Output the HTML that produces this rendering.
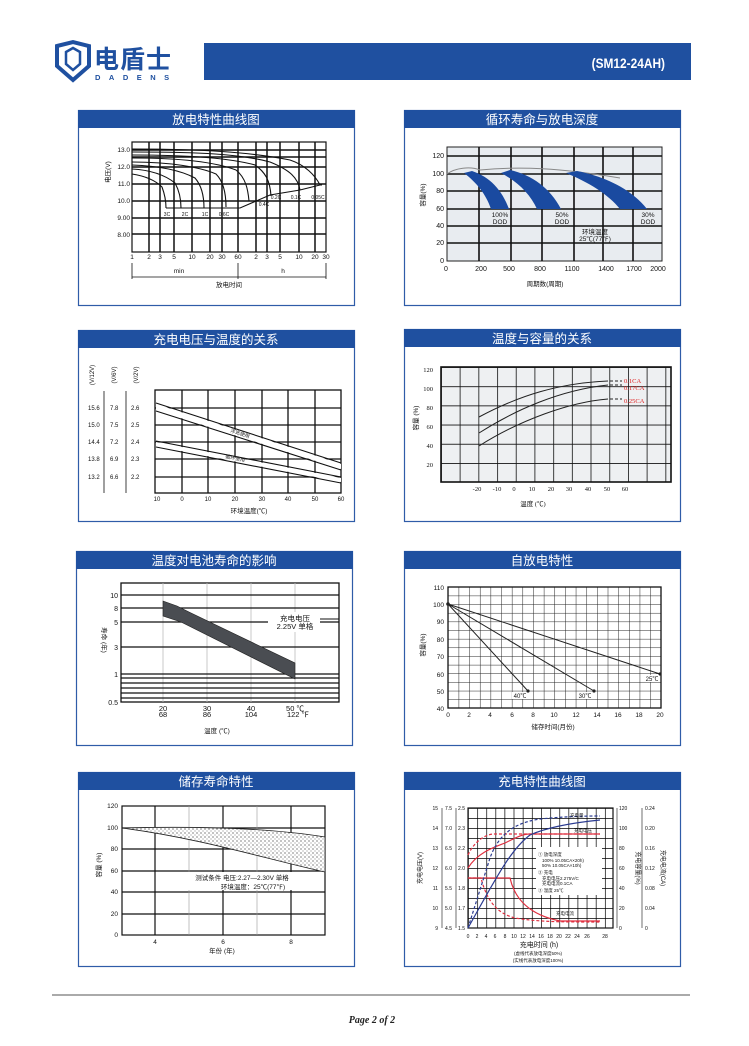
<!DOCTYPE html>
<html><head><meta charset="utf-8"><style>
html,body{margin:0;padding:0;background:#fff;}
svg{display:block;font-family:"Liberation Sans","Noto Sans CJK SC",sans-serif;}
</style></head><body>
<svg width="749" height="1046" viewBox="0 0 749 1046" xmlns="http://www.w3.org/2000/svg">
<defs>
<pattern id="g4" x="441" y="367" width="18.7" height="19.2" patternUnits="userSpaceOnUse"><path d="M0 0V19.2M0 0H18.7" stroke="#111" stroke-width="1.6" fill="none"/></pattern>
<pattern id="g6" x="448" y="587" width="10.65" height="8.65" patternUnits="userSpaceOnUse"><path d="M0 0V8.65M0 0H10.65" stroke="#222" stroke-width="1" fill="none"/></pattern>
<pattern id="g8" x="468" y="808" width="9.13" height="10" patternUnits="userSpaceOnUse"><path d="M0 0V10M0 0H9.13" stroke="#000" stroke-width="1.4" fill="none"/></pattern>
<pattern id="dots" width="4" height="4" patternUnits="userSpaceOnUse"><rect width="4" height="4" fill="#fff"/><circle cx="1" cy="1" r="0.6" fill="#333"/><circle cx="3" cy="3" r="0.5" fill="#555"/></pattern>
</defs>

<!-- Header -->
<g fill="#1f50a0">
<path d="M57 46 L73 42 L89 46 L89 66 L73 80 L57 66 Z" fill="none" stroke="#1f50a0" stroke-width="4"/>
<path d="M66 52 L73 48 L80 52 L80 64 L73 70 L66 64 Z" fill="none" stroke="#1f50a0" stroke-width="2.5"/>
</g>
<text x="94" y="68" font-size="25" font-weight="bold" fill="#1f50a0" letter-spacing="1">电盾士</text>
<text x="95" y="80" font-size="7.5" font-weight="bold" fill="#1f50a0" letter-spacing="8.5">DADENS</text>
<rect x="204" y="43" width="487" height="37" fill="#1f50a0"/>
<text x="665" y="68" font-size="14" font-weight="bold" fill="#fff" text-anchor="end" transform="translate(665 0) scale(0.85 1) translate(-665 0)">(SM12-24AH)</text>

<!-- Panels -->
<g fill="none" stroke="#2f5ca8" stroke-width="1.2">
<rect x="78.5" y="110.5" width="276" height="195"/>
<rect x="404.5" y="110.5" width="276" height="195"/>
<rect x="78.5" y="330.5" width="276" height="191"/>
<rect x="404.5" y="329.5" width="276" height="192"/>
<rect x="76.5" y="551.5" width="276" height="194"/>
<rect x="404.5" y="551.5" width="276" height="194"/>
<rect x="78.5" y="772.5" width="276" height="194"/>
<rect x="404.5" y="772.5" width="276" height="194"/>
</g>
<g fill="#1f50a0">
<rect x="78" y="110" width="277" height="18"/>
<rect x="404" y="110" width="277" height="18"/>
<rect x="78" y="330" width="277" height="18"/>
<rect x="404" y="329" width="277" height="18"/>
<rect x="76" y="551" width="277" height="18"/>
<rect x="404" y="551" width="277" height="18"/>
<rect x="78" y="772" width="277" height="18"/>
<rect x="404" y="772" width="277" height="18"/>
</g>
<g fill="#fff" font-size="12.5" text-anchor="middle">
<text x="216" y="124">放电特性曲线图</text>
<text x="542" y="124">循环寿命与放电深度</text>
<text x="216" y="344">充电电压与温度的关系</text>
<text x="542" y="343">温度与容量的关系</text>
<text x="214" y="565">温度对电池寿命的影响</text>
<text x="542" y="565">自放电特性</text>
<text x="216" y="786">储存寿命特性</text>
<text x="542" y="786">充电特性曲线图</text>
</g>

<!-- Chart 1 -->
<g stroke="#111" fill="none">
<rect x="132" y="142" width="194" height="110" stroke-width="1.2"/>
<g stroke-width="1.5">
<path d="M149 142V252M160 142V252M174 142V252M192 142V252M210 142V252M222 142V252M238 142V252M256 142V252M267 142V252M280 142V252M299 142V252M315 142V252"/>
<path d="M132 150H326M132 157H326M132 167H326M132 184H326M132 201H326M132 218H326M132 234H326"/>
</g>
<g stroke-width="1.1">
<path d="M132 149 C200 149 250 152 290 160 C305 165 315 175 320 185 L322 185"/>
<path d="M132 152 C200 152 240 154 270 162 C290 170 298 178 300 190"/>
<path d="M132 155 C190 155 230 158 255 165 C265 172 270 180 271 196"/>
<path d="M132 158 C180 158 215 162 236 170 C246 178 248 190 249 201"/>
<path d="M132 162 C170 162 200 167 216 174 C224 182 226 195 226 207"/>
<path d="M132 165 C160 166 180 170 195 178 C202 186 204 198 204 208"/>
<path d="M132 169 C150 170 165 175 175 183 C180 192 181 200 181 208"/>
<path d="M132 174 C145 176 155 180 162 187 C165 195 166 202 166 208"/>
<path d="M166 208 H240 L270 195 L300 190 L320 185"/>
</g>
</g>
<g font-size="5" fill="#111" text-anchor="middle">
<text x="167" y="216">3C</text><text x="185" y="216">2C</text><text x="205" y="216">1C</text><text x="224" y="216">0.6C</text>
<text x="264" y="206">0.4C</text><text x="276" y="199">0.2C</text><text x="296" y="199">0.1C</text><text x="318" y="199">0.05C</text>
</g>
<g font-size="6.5" fill="#111" text-anchor="end">
<text x="130" y="152">13.0</text><text x="130" y="169">12.0</text><text x="130" y="186">11.0</text><text x="130" y="203">10.0</text><text x="130" y="220">9.00</text><text x="130" y="237">8.00</text>
</g>
<text x="110" y="172" font-size="6.5" fill="#111" transform="rotate(-90 110 172)" text-anchor="middle">电压(V)</text>
<g font-size="6.5" fill="#111" text-anchor="middle">
<text x="132" y="259">1</text><text x="149" y="259">2</text><text x="160" y="259">3</text><text x="174" y="259">5</text><text x="192" y="259">10</text><text x="210" y="259">20</text><text x="222" y="259">30</text><text x="238" y="259">60</text><text x="256" y="259">2</text><text x="267" y="259">3</text><text x="280" y="259">5</text><text x="299" y="259">10</text><text x="315" y="259">20</text><text x="326" y="259">30</text>
<text x="179" y="273">min</text><text x="283" y="273">h</text><text x="229" y="287">放电时间</text>
</g>
<path d="M132 263V279M238 263V279M326 263V279M132 277H326" stroke="#111" stroke-width="0.8"/>

<!-- Chart 2 -->
<rect x="447" y="147" width="215" height="114" fill="#e8ecf0" stroke="#222"/>
<g stroke="#111" stroke-width="1.6">
<path d="M479 147V261M511 147V261M542 147V261M574 147V261M603 147V261M633 147V261"/>
<path d="M447 156H662M447 174H662M447 191H662M447 209H662M447 226H662M447 243H662"/>
</g>
<path d="M447 174 C455 168 470 166 480 170 C520 166 560 168 620 178" stroke="#888" fill="none" stroke-width="1"/>
<g fill="#1a4aa0">
<path d="M464 173 C476 182 486 194 491 209 L509 209 C502 190 490 177 472 171 Z"/>
<path d="M501 173 C518 182 530 194 537 209 L561 209 C550 188 532 175 510 170 Z"/>
<path d="M566 173 C588 182 608 194 620 209 L647 209 C632 190 607 177 577 171 Z"/>
</g>
<g font-size="6.5" fill="#111" text-anchor="middle">
<text x="500" y="217">100%</text><text x="500" y="224">DOD</text>
<text x="562" y="217">50%</text><text x="562" y="224">DOD</text>
<text x="648" y="217">30%</text><text x="648" y="224">DOD</text>
<text x="595" y="234">环境温度</text><text x="595" y="241">25℃(77℉)</text>
<text x="545" y="286" font-size="6.5">周期数(周期)</text>
</g>
<g font-size="7" fill="#111" text-anchor="end">
<text x="444" y="158">120</text><text x="444" y="176">100</text><text x="444" y="193">80</text><text x="444" y="211">60</text><text x="444" y="228">40</text><text x="444" y="245">20</text><text x="444" y="263">0</text>
</g>
<g font-size="7" fill="#111" text-anchor="middle">
<text x="446" y="271">0</text><text x="481" y="271">200</text><text x="509" y="271">500</text><text x="540" y="271">800</text><text x="572" y="271">1100</text><text x="606" y="271">1400</text><text x="634" y="271">1700</text><text x="658" y="271">2000</text>
</g>
<text x="425" y="195" font-size="6.5" fill="#111" transform="rotate(-90 425 195)" text-anchor="middle">容量(%)</text>

<!-- Chart 3 -->
<rect x="155" y="390" width="186" height="103" fill="none" stroke="#111" stroke-width="1.3"/>
<g stroke="#111" stroke-width="1.3">
<path d="M182 390V493M208 390V493M235 390V493M262 390V493M288 390V493M315 390V493"/>
<path d="M155 408H341M155 425H341M155 442H341M155 459H341M155 477H341"/>
</g>
<g stroke="#111" stroke-width="1.1">
<path d="M156 403L341 463M156 411L341 470M156 441L341 477M156 447L341 483"/>
</g>
<polygon points="156,404 341,464 341,469 156,410" fill="#fff"/>
<polygon points="156,442 341,478 341,482 156,446" fill="#fff"/>
<text x="230" y="432" font-size="5" fill="#222" transform="rotate(18 230 432)">浮充使用</text>
<text x="225" y="458" font-size="5" fill="#222" transform="rotate(11 225 458)">循环使用</text>
<g font-size="6" fill="#111">
<text x="88" y="410">15.6</text><text x="110" y="410">7.8</text><text x="131" y="410">2.6</text>
<text x="88" y="427">15.0</text><text x="110" y="427">7.5</text><text x="131" y="427">2.5</text>
<text x="88" y="444">14.4</text><text x="110" y="444">7.2</text><text x="131" y="444">2.4</text>
<text x="88" y="461">13.8</text><text x="110" y="461">6.9</text><text x="131" y="461">2.3</text>
<text x="88" y="479">13.2</text><text x="110" y="479">6.6</text><text x="131" y="479">2.2</text>
</g>
<path d="M104 391V493M126 391V493" stroke="#111" stroke-width="0.8"/>
<g font-size="6" fill="#111" text-anchor="middle">
<text x="94" y="375" transform="rotate(-90 94 375)">(V/12V)</text>
<text x="116" y="375" transform="rotate(-90 116 375)">(V/6V)</text>
<text x="138" y="375" transform="rotate(-90 138 375)">(V/2V)</text>
<text x="157" y="501">10</text><text x="182" y="501">0</text><text x="208" y="501">10</text><text x="235" y="501">20</text><text x="262" y="501">30</text><text x="288" y="501">40</text><text x="315" y="501">50</text><text x="341" y="501">60</text>
<text x="249" y="513" font-size="6.5">环境温度(℃)</text>
</g>

<!-- Chart 4 -->
<rect x="441" y="367" width="230" height="115" fill="#eef0f2"/>
<rect x="441" y="367" width="230" height="115" fill="url(#g4)" stroke="#111" stroke-width="1.6"/>
<g stroke="#222" fill="none" stroke-width="1">
<path d="M479 417 C520 395 560 383 608 381"/>
<path d="M479 433 C515 410 560 390 608 385"/>
<path d="M479 446 C520 420 570 402 608 399"/>
<path d="M610 381H622M610 385H622M610 399H622" stroke-dasharray="3 2"/>
</g>
<g font-size="6.5" fill="#e02020" font-family="Liberation Serif,serif">
<text x="624" y="383">0.1CA</text><text x="624" y="390">0.17CA</text><text x="624" y="403">0.25CA</text>
</g>
<g font-size="6.5" fill="#111" text-anchor="end" font-family="Liberation Serif,serif">
<text x="433" y="372">120</text><text x="433" y="391">100</text><text x="433" y="410">80</text><text x="433" y="429">60</text><text x="433" y="448">40</text><text x="433" y="467">20</text>
</g>
<g font-size="6.5" fill="#111" text-anchor="middle" font-family="Liberation Serif,serif">
<text x="477" y="491">-20</text><text x="497" y="491">-10</text><text x="514" y="491">0</text><text x="532" y="491">10</text><text x="551" y="491">20</text><text x="569" y="491">30</text><text x="588" y="491">40</text><text x="607" y="491">50</text><text x="625" y="491">60</text>
<text x="533" y="506">温度 (℃)</text>
</g>
<text x="418" y="418" font-size="6.5" fill="#111" transform="rotate(-90 418 418)" text-anchor="middle">容量 (%)</text>

<!-- Chart 5 -->
<rect x="121" y="583" width="218" height="119" fill="none" stroke="#111" stroke-width="1.3"/>
<g stroke="#bbb" stroke-width="0.8"><path d="M163 583V702M207 583V702M251 583V702M295 583V702"/></g>
<g stroke="#111" stroke-width="1.2"><path d="M121 595H339M121 608H339M121 622H339M121 647H339M121 674H339M121 678H339M121 683H339M121 688H339M121 693H339M121 698H339"/></g>
<polygon points="163,601 177,606 189,612 295,663 295,679 181,622 163,616" fill="#4a4d52" stroke="#222" stroke-width="0.6"/>
<rect x="268" y="612" width="52" height="20" fill="#fff"/>
<path d="M320 619H339" stroke="#111"/>
<g font-size="7.5" fill="#111" text-anchor="middle">
<text x="295" y="621">充电电压</text><text x="295" y="629">2.25V 单格</text>
<text x="163" y="711">20</text><text x="163" y="717">68</text>
<text x="207" y="711">30</text><text x="207" y="717">86</text>
<text x="251" y="711">40</text><text x="251" y="717">104</text>
<text x="295" y="711">50 ℃</text><text x="298" y="717">122 ℉</text>
<text x="217" y="733" font-size="6.5">温度 (℃)</text>
</g>
<g font-size="7" fill="#111" text-anchor="end">
<text x="118" y="598">10</text><text x="118" y="611">8</text><text x="118" y="625">5</text><text x="118" y="650">3</text><text x="118" y="677">1</text><text x="118" y="705">0.5</text>
</g>
<text x="102" y="640" font-size="6.5" fill="#111" transform="rotate(90 102 640)" text-anchor="middle">寿命 (年)</text>

<!-- Chart 6 -->
<rect x="448" y="587" width="213" height="121" fill="url(#g6)" stroke="#111" stroke-width="1.3"/>
<g stroke="#222" stroke-width="1" fill="none">
<path d="M448 604L528 691M448 604L594 691M448 604L660 674"/>
</g>
<g fill="#222"><circle cx="448" cy="604" r="1.8"/><circle cx="528" cy="691" r="1.6"/><circle cx="594" cy="691" r="1.6"/><circle cx="660" cy="674" r="1.6"/></g>
<g font-size="6" fill="#111" text-anchor="middle">
<rect x="512" y="692" width="14" height="7" fill="#fff"/><text x="520" y="698">40℃</text>
<rect x="578" y="692" width="14" height="7" fill="#fff"/><text x="585" y="698">30℃</text>
<rect x="645" y="675" width="14" height="7" fill="#fff"/><text x="652" y="681">25℃</text>
</g>
<g font-size="6.5" fill="#111" text-anchor="end">
<text x="444" y="590">110</text><text x="444" y="607">100</text><text x="444" y="624">90</text><text x="444" y="642">80</text><text x="444" y="659">70</text><text x="444" y="677">60</text><text x="444" y="694">50</text><text x="444" y="711">40</text>
</g>
<g font-size="6.5" fill="#111" text-anchor="middle">
<text x="448" y="717">0</text><text x="469" y="717">2</text><text x="490" y="717">4</text><text x="512" y="717">6</text><text x="533" y="717">8</text><text x="554" y="717">10</text><text x="576" y="717">12</text><text x="597" y="717">14</text><text x="618" y="717">16</text><text x="639" y="717">18</text><text x="660" y="717">20</text>
<text x="553" y="729">储存时间(月份)</text>
</g>
<text x="425" y="645" font-size="6.5" fill="#111" transform="rotate(-90 425 645)" text-anchor="middle">容量(%)</text>

<!-- Chart 7 -->
<rect x="122" y="806" width="203" height="129" fill="none" stroke="#111" stroke-width="1.2"/>
<g stroke="#111" stroke-width="1.2">
<path d="M122 828H325M122 849H325M122 871H325M122 892H325M122 914H325"/>
<path d="M155 806V935M223 806V935M291 806V935"/>
</g>
<g stroke="#999" stroke-width="0.6"><path d="M189 806V935M257 806V935"/></g>
<path d="M122 828 C200 826 270 828 325 837 L325 872 C270 860 200 838 122 828 Z" fill="url(#dots)" stroke="#222" stroke-width="0.8"/>
<rect x="178" y="872" width="130" height="18" fill="#fff"/>
<g font-size="6.5" fill="#111" text-anchor="middle">
<text x="242" y="880">测试条件 电压:2.27—2.30V 单格</text>
<text x="253" y="889">环境温度：25℃(77℉)</text>
<text x="155" y="944">4</text><text x="223" y="944">6</text><text x="291" y="944">8</text>
<text x="222" y="953">年份 (年)</text>
</g>
<g font-size="6.5" fill="#111" text-anchor="end">
<text x="118" y="808">120</text><text x="118" y="830">100</text><text x="118" y="851">80</text><text x="118" y="873">60</text><text x="118" y="894">40</text><text x="118" y="916">20</text><text x="118" y="937">0</text>
</g>
<text x="101" y="865" font-size="6.5" fill="#111" transform="rotate(-90 101 865)" text-anchor="middle">容量 (%)</text>

<!-- Chart 8 -->
<rect x="468" y="808" width="145" height="120" fill="url(#g8)" stroke="#111" stroke-width="1.2"/>
<rect x="536" y="847" width="66" height="48" fill="#fff"/>
<g fill="none" stroke-width="1.2">
<path d="M468 868 C478 852 495 847 505 843 C515 838 522 834 530 834 H600" stroke="#e03040"/>
<path d="M468 855 C474 842 484 835 493 834 H600" stroke="#e03040" stroke-dasharray="3 2"/>
<path d="M468 878 H510 C515 900 530 915 560 921 H600" stroke="#e03040"/>
<path d="M468 878 H481 C488 905 500 914 515 918 C540 922 560 922 600 922" stroke="#e03040" stroke-dasharray="3 2"/>
<path d="M468 928 C495 880 510 850 530 835 C550 826 580 822 600 820" stroke="#2a3a90"/>
<path d="M468 928 L490 858 C500 830 520 822 540 819 C570 816 590 816 600 816" stroke="#2a3a90" stroke-dasharray="3 2"/>
</g>
<g font-size="4.5" fill="#111">
<text x="570" y="817">充电量</text><text x="574" y="832">充电电压</text><text x="556" y="915">充电电流</text>
<text x="538" y="856">① 放电深度</text><text x="542" y="862">100% 10.05CA×20h)</text><text x="542" y="867">50% 10.05CA×10h)</text>
<text x="538" y="874">② 充电</text><text x="542" y="880">充电电压2.275V/C</text><text x="542" y="885">充电电流0.1CA</text><text x="538" y="892">③ 温度 25℃</text>
</g>
<g font-size="5" fill="#111" text-anchor="end">
<text x="438" y="810">15</text><text x="438" y="830">14</text><text x="438" y="850">13</text><text x="438" y="870">12</text><text x="438" y="890">11</text><text x="438" y="910">10</text><text x="438" y="930">9</text>
<text x="452" y="810">7.5</text><text x="452" y="830">7.0</text><text x="452" y="850">6.5</text><text x="452" y="870">6.0</text><text x="452" y="890">5.5</text><text x="452" y="910">5.0</text><text x="452" y="930">4.5</text>
<text x="465" y="810">2.5</text><text x="465" y="830">2.3</text><text x="465" y="850">2.2</text><text x="465" y="870">2.0</text><text x="465" y="890">1.8</text><text x="465" y="910">1.7</text><text x="465" y="930">1.5</text>
</g>
<g font-size="5" fill="#111">
<text x="619" y="810">120</text><text x="619" y="830">100</text><text x="619" y="850">80</text><text x="619" y="870">60</text><text x="619" y="890">40</text><text x="619" y="910">20</text><text x="619" y="930">0</text>
<text x="645" y="810">0.24</text><text x="645" y="830">0.20</text><text x="645" y="850">0.16</text><text x="645" y="870">0.12</text><text x="645" y="890">0.08</text><text x="645" y="910">0.04</text><text x="645" y="930">0</text>
</g>
<path d="M442 808V928M456 808V928M617 808V928M642 808V928" stroke="#111" stroke-width="0.6"/>
<g font-size="5" fill="#111" text-anchor="middle">
<text x="468" y="938">0</text><text x="477" y="938">2</text><text x="486" y="938">4</text><text x="495" y="938">6</text><text x="505" y="938">8</text><text x="514" y="938">10</text><text x="523" y="938">12</text><text x="532" y="938">14</text><text x="541" y="938">16</text><text x="550" y="938">18</text><text x="559" y="938">20</text><text x="568" y="938">22</text><text x="577" y="938">24</text><text x="587" y="938">26</text><text x="605" y="938">28</text>
<text x="539" y="947" font-size="7">充电时间 (h)</text>
<text x="538" y="955" font-size="4.5">(虚线代表放电深度50%)</text>
<text x="538" y="962" font-size="4.5">(实线代表放电深度100%)</text>
</g>
<text x="422" y="868" font-size="6" fill="#111" transform="rotate(-90 422 868)" text-anchor="middle">充电电压(V)</text>
<text x="636" y="868" font-size="6" fill="#111" transform="rotate(90 636 868)" text-anchor="middle">充电容量(%)</text>
<text x="661" y="868" font-size="6" fill="#111" transform="rotate(90 661 868)" text-anchor="middle">充电电流(CA)</text>

<!-- Footer -->
<path d="M52 995H690" stroke="#555" stroke-width="1"/>
<text x="372" y="1023" font-size="10" font-weight="bold" font-style="italic" font-family="Liberation Serif,serif" fill="#222" text-anchor="middle">Page 2 of 2</text>
</svg>
</body></html>
